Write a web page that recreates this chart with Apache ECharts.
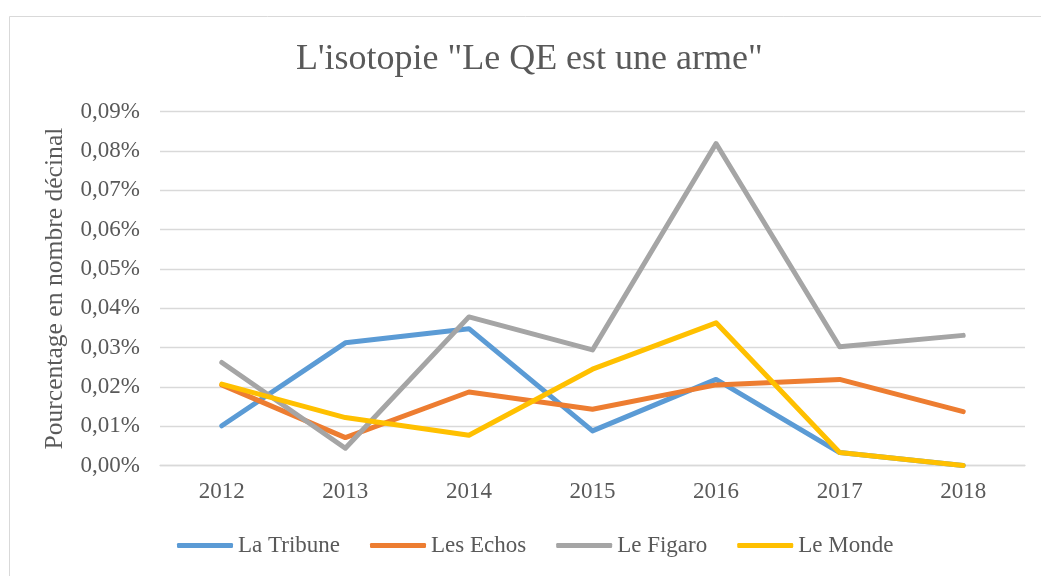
<!DOCTYPE html>
<html>
<head>
<meta charset="utf-8">
<script src="https://cdn.jsdelivr.net/npm/echarts@6/dist/echarts.min.js"></script>
<style>html,body{margin:0;padding:0;background:#fff}#c{width:1041px;height:576px}</style>
</head>
<body>
<div id="c"></div>
<script>
const titleText = 'L\'isotopie "Le QE est une arme"';
const yAxisName = 'Pourcentage en nombre décinal';
const years = ['2012', '2013', '2014', '2015', '2016', '2017', '2018'];
const laTribune = [0.0101, 0.0312, 0.0348, 0.0088, 0.0219, 0.0033, 0.0000];
const lesEchos  = [0.0205, 0.0071, 0.0187, 0.0143, 0.0205, 0.0219, 0.0137];
const leFigaro  = [0.0262, 0.0044, 0.0378, 0.0294, 0.0819, 0.0302, 0.0331];
const leMonde   = [0.0207, 0.0122, 0.0077, 0.0245, 0.0363, 0.0033, 0.0000];
const seriesNames = ['La Tribune', 'Les Echos', 'Le Figaro', 'Le Monde'];
const colors = ['#5B9BD5', '#ED7D31', '#A5A5A5', '#FFC000'];
const yMin = 0, yMax = 0.09, yStep = 0.01;

const FONT = '"Liberation Serif", "DejaVu Serif", serif';
const TXT = '#595959';
const chart = echarts.init(document.getElementById('c'), null, {renderer: 'canvas'});
const data = [laTribune, lesEchos, leFigaro, leMonde];
chart.setOption({
  animation: false,
  backgroundColor: '#fff',
  graphic: [{
    type: 'rect', silent: true, z: -10,
    shape: {x: 9.5, y: 16.5, width: 1200, height: 800},
    style: {fill: '#fff', stroke: '#D9D9D9', lineWidth: 1}
  }],
  title: {
    text: titleText, left: 291, top: 37,
    textStyle: {fontFamily: FONT, fontSize: 36, fontWeight: 'normal', color: TXT}
  },
  legend: {
    data: seriesNames, left: 172, top: 529,
    icon: 'roundRect', itemWidth: 56, itemHeight: 5, itemGap: 30,
    textStyle: {fontFamily: FONT, fontSize: 23, color: TXT}
  },
  grid: {left: 160, right: 16, top: 111.7, bottom: 110.5, containLabel: false},
  xAxis: {
    type: 'category', data: years, boundaryGap: true,
    axisLine: {show: true, lineStyle: {color: '#D9D9D9', width: 1.3}},
    axisTick: {show: false},
    axisLabel: {fontFamily: FONT, fontSize: 23, color: TXT, margin: 15}
  },
  yAxis: {
    type: 'value', min: yMin, max: yMax, interval: yStep,
    name: yAxisName, nameLocation: 'middle', nameGap: 92,
    nameTextStyle: {fontFamily: FONT, fontSize: 25.6, color: TXT},
    axisLine: {show: false}, axisTick: {show: false},
    splitLine: {lineStyle: {color: '#D9D9D9', width: 1.3}},
    axisLabel: {
      fontFamily: FONT, fontSize: 23, color: TXT, margin: 20,
      formatter: v => v.toFixed(2).replace('.', ',') + '%'
    }
  },
  series: seriesNames.map((n, i) => ({
    name: n, type: 'line', data: data[i], symbol: 'none', smooth: false,
    color: colors[i],
    lineStyle: {width: 5, color: colors[i], cap: 'round', join: 'round'}
  }))
});
</script>
</body>
</html>
